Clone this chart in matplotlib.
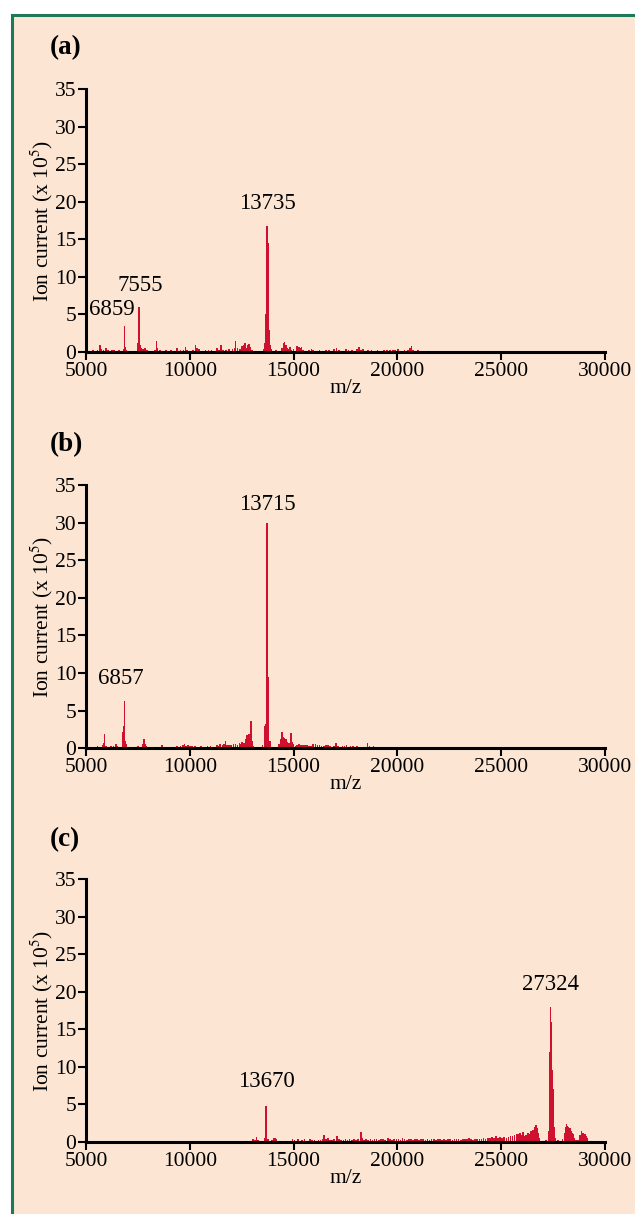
import matplotlib
matplotlib.use("Agg")
import matplotlib.pyplot as plt
from matplotlib.patches import Rectangle

plt.rcParams['font.family'] = ['Liberation Serif', 'DejaVu Serif']
plt.rcParams['mathtext.fontset'] = 'stix'

# ---- datos (m/z, intensidad x 10^5) ----
mz_a = [5200, 5350, 5480, 5560, 5674, 5750, 5850, 5950, 6050, 6150, 6250, 6350, 6480, 6600,
        6700, 6800, 6859, 6900, 6960, 7080, 7200, 7350, 7480, 7520, 7555, 7590, 7650, 7750,
        7850, 7950, 8080, 8200, 8330, 8405, 8450, 8560, 8700, 8850, 8980, 9100, 9250, 9400,
        9550, 9700, 9802, 9880, 10000, 10150, 10282, 10350, 10450, 10600, 10750, 10900, 11050,
        11180, 11296, 11400, 11518, 11600, 11750, 11900, 12050, 12150, 12210, 12300, 12420,
        12520, 12600, 12659, 12720, 12800, 12852, 12920, 13000, 13150, 13300, 13450, 13560,
        13620, 13680, 13710, 13735, 13760, 13790, 13820, 13860, 13900, 14000, 14150, 14300,
        14450, 14523, 14570, 14620, 14700, 14760, 14827, 14900, 15000, 15150, 15220, 15275,
        15330, 15385, 15460, 15600, 15750, 15870, 15950, 16100, 16250, 16400, 16560, 16700,
        16850, 16950, 17075, 17200, 17350, 17523, 17650, 17800, 17950, 18050, 18136, 18250,
        18330, 18450, 18600, 18750, 18900, 19050, 19200, 19350, 19500, 19650, 19800, 19900,
        20045, 20200, 20350, 20500, 20620, 20684, 20750, 20850, 20993]
int_a = [0.15, 0.3, 0.2, 0.25, 0.9, 0.4, 0.3, 0.5, 0.3, 0.2, 0.3, 0.25, 0.2, 0.3,
         0.2, 0.4, 3.5, 0.7, 0.3, 0.2, 0.15, 0.2, 0.5, 1.2, 6.0, 1.0, 0.5, 0.4,
         0.5, 0.3, 0.2, 0.15, 0.3, 1.5, 0.5, 0.3, 0.2, 0.25, 0.15, 0.3, 0.2, 0.6,
         0.25, 0.3, 0.7, 0.3, 0.2, 0.25, 0.9, 0.5, 0.4, 0.2, 0.3, 0.25, 0.3,
         0.2, 0.6, 0.3, 1.0, 0.3, 0.25, 0.35, 0.4, 0.6, 1.5, 0.5, 0.4,
         0.8, 0.9, 1.2, 0.6, 0.9, 1.1, 0.7, 0.3, 0.2, 0.15, 0.2, 0.4,
         1.2, 5.0, 10.0, 16.8, 14.5, 8.0, 3.0, 1.0, 0.4, 0.2, 0.3, 0.2,
         0.5, 1.2, 1.3, 0.9, 0.6, 0.4, 0.7, 0.3, 0.35, 0.8, 0.6, 0.7,
         0.5, 0.7, 0.3, 0.2, 0.3, 0.4, 0.25, 0.2, 0.3, 0.2, 0.25, 0.3,
         0.2, 0.35, 0.5, 0.25, 0.2, 0.4, 0.25, 0.3, 0.2, 0.35, 0.7, 0.3,
         0.45, 0.2, 0.25, 0.3, 0.2, 0.25, 0.2, 0.3, 0.25, 0.3, 0.25, 0.3,
         0.4, 0.2, 0.25, 0.3, 0.5, 0.8, 0.3, 0.2, 0.25]

mz_b = [5400, 5550, 5674, 5800, 5880, 5900, 5960, 6050, 6200, 6330, 6461, 6520, 6650, 6760,
        6799, 6830, 6857, 6890, 6950, 7050, 7200, 7350, 7500, 7650, 7720, 7794, 7830, 7900,
        8050, 8200, 8350, 8500, 8676, 8800, 8950, 9100, 9250, 9400, 9550, 9680, 9754, 9820,
        9900, 10000, 10100, 10250, 10400, 10550, 10700, 10850, 11000, 11150, 11300, 11400,
        11455, 11580, 11650, 11727, 11800, 11900, 12000, 12100, 12200, 12300, 12400, 12480,
        12530, 12600, 12680, 12770, 12850, 12940, 12990, 13050, 13200, 13350, 13500, 13600,
        13650, 13690, 13715, 13740, 13770, 13800, 13850, 13880, 14000, 14150, 14300, 14400,
        14457, 14510, 14560, 14620, 14700, 14780, 14875, 14920, 15000, 15100, 15180, 15260,
        15350, 15450, 15550, 15650, 15750, 15850, 15950, 16050, 16150, 16250, 16350, 16450,
        16550, 16650, 16750, 16850, 16950, 17042, 17150, 17250, 17350, 17450, 17550, 17650,
        17750, 17850, 17950, 18050, 18150, 18300, 18450, 18568, 18650, 18750, 18850, 18950]
int_b = [0.2, 0.3, 0.2, 0.4, 0.7, 1.9, 0.3, 0.2, 0.3, 0.25, 0.6, 0.3, 0.2, 0.7,
         2.1, 3.0, 6.3, 1.0, 0.5, 0.2, 0.15, 0.2, 0.3, 0.2, 0.5, 1.2, 0.6, 0.3,
         0.2, 0.15, 0.2, 0.15, 0.35, 0.15, 0.2, 0.2, 0.15, 0.25, 0.3, 0.35, 0.5, 0.3,
         0.35, 0.3, 0.25, 0.3, 0.2, 0.25, 0.2, 0.3, 0.25, 0.2, 0.4, 0.3,
         0.6, 0.35, 0.5, 0.9, 0.4, 0.45, 0.35, 0.6, 0.5, 0.4, 0.7, 0.6,
         0.8, 0.7, 1.25, 1.7, 1.9, 3.6, 1.0, 0.3, 0.15, 0.2, 0.4, 3.0,
         3.2, 20.0, 30.0, 22.0, 9.5, 3.0, 1.0, 0.5, 0.2, 0.2, 0.6, 1.2,
         2.2, 1.5, 1.3, 1.25, 0.8, 0.7, 2.0, 0.8, 0.5, 0.3, 0.4, 0.6,
         0.4, 0.45, 0.4, 0.35, 0.3, 0.25, 0.5, 0.6, 0.4, 0.35, 0.3, 0.25,
         0.4, 0.45, 0.3, 0.2, 0.25, 0.7, 0.3, 0.2, 0.25, 0.3, 0.35, 0.2,
         0.25, 0.3, 0.2, 0.25, 0.2, 0.2, 0.15, 0.7, 0.3, 0.2, 0.25, 0.15]

mz_c = [13060, 13150, 13220, 13300, 13400, 13500, 13600, 13670, 13700, 13760, 13850, 13950,
        14050, 14104, 14160, 14250, 14400, 14550, 14700, 14850, 14950, 15050, 15200, 15300,
        15400, 15520, 15650, 15800, 15900, 16000, 16100, 16200, 16300, 16400, 16465, 16550,
        16650, 16750, 16850, 16950, 17105, 17200, 17300, 17400, 17500, 17600, 17700, 17800,
        17900, 18000, 18100, 18246, 18320, 18400, 18500, 18600, 18700, 18800, 18900, 19000,
        19100, 19200, 19300, 19400, 19550, 19650, 19750, 19850, 19950, 20050, 20150, 20250,
        20350, 20450, 20550, 20650, 20750, 20850, 20950, 21050, 21150, 21250, 21350, 21450,
        21550, 21650, 21750, 21850, 21950, 22050, 22150, 22250, 22350, 22450, 22550, 22650,
        22750, 22850, 22950, 23050, 23150, 23250, 23350, 23465, 23550, 23650, 23750, 23850,
        23950, 24050, 24150, 24250, 24350, 24450, 24550, 24650, 24750, 24850, 24950, 25050,
        25150, 25250, 25350, 25450, 25550, 25650, 25750, 25850, 25906, 25980, 26050, 26120,
        26200, 26280, 26360, 26440, 26520, 26600, 26676, 26740, 26800, 26850, 26950, 27050,
        27150, 27250, 27300, 27340, 27380, 27420, 27460, 27500, 27540, 27580, 27650, 27750,
        27850, 27950, 28050, 28100, 28150, 28200, 28250, 28300, 28350, 28400, 28450, 28500,
        28600, 28700, 28800, 28874, 28930, 28990, 29050, 29110, 29165]
int_c = [0.45, 0.3, 0.7, 0.25, 0.15, 0.2, 0.5, 4.8, 1.1, 0.4, 0.2, 0.3,
         0.5, 0.6, 0.4, 0.2, 0.15, 0.15, 0.2, 0.15, 0.35, 0.25, 0.45, 0.2,
         0.25, 0.35, 0.2, 0.4, 0.25, 0.3, 0.2, 0.25, 0.3, 0.4, 0.9, 0.4,
         0.5, 0.3, 0.3, 0.4, 0.8, 0.35, 0.3, 0.25, 0.35, 0.3, 0.4, 0.3,
         0.35, 0.3, 0.4, 1.3, 0.6, 0.3, 0.35, 0.3, 0.35, 0.3, 0.35, 0.4,
         0.3, 0.35, 0.4, 0.3, 0.5, 0.35, 0.3, 0.4, 0.35, 0.4, 0.3, 0.5,
         0.35, 0.3, 0.4, 0.35, 0.3, 0.4, 0.35, 0.3, 0.45, 0.35, 0.3, 0.4,
         0.3, 0.35, 0.4, 0.3, 0.35, 0.4, 0.3, 0.35, 0.3, 0.4, 0.35, 0.3,
         0.4, 0.35, 0.4, 0.3, 0.35, 0.4, 0.35, 0.55, 0.35, 0.3, 0.4, 0.35,
         0.45, 0.4, 0.5, 0.45, 0.6, 0.5, 0.7, 0.6, 0.75, 0.5, 0.65, 0.55,
         0.7, 0.6, 0.7, 0.8, 0.75, 0.9, 1.0, 1.1, 1.2, 0.9, 1.33, 0.8,
         0.9, 1.2, 1.1, 1.4, 1.6, 2.0, 2.3, 1.8, 1.2, 0.5, 0.2, 0.15,
         0.3, 0.2, 1.5, 12.0, 18.0, 16.0, 9.6, 7.0, 2.0, 0.5, 0.2, 0.3,
         0.2, 0.4, 1.2, 2.0, 2.4, 2.1, 2.0, 1.8, 1.5, 1.2, 1.07, 0.6,
         0.3, 0.3, 0.9, 1.5, 1.2, 1.0, 1.0, 0.8, 0.5]

# etiquetas de picos: (texto, m/z, altura del texto)
picos_a = [("13735", 13735, 18.4), ("7555", 7620, 7.4), ("6859", 6230, 4.3)]
picos_b = [("13715", 13715, 31.0), ("6857", 6690, 7.8)]
picos_c = [("13670", 13670, 6.7), ("27324", 27380, 19.6)]

rojo = "#d0102f"
fondo = "#fce6d3"

fig = plt.figure(figsize=(6.35, 12.14), dpi=100)
fig.patch.set_facecolor("white")
# marco verde con fondo melocoton
fig.add_artist(Rectangle((12 / 635, -0.05), 1.2, 1 - 15 / 1214 + 0.05,
                         transform=fig.transFigure, facecolor=fondo,
                         edgecolor="#1c7a5a", linewidth=2.2, zorder=-10))

paneles = [("(a)", mz_a, int_a, picos_a, 0.7100, 48),
           ("(b)", mz_b, int_b, picos_b, 0.3838, 445),
           ("(c)", mz_c, int_c, picos_c, 0.0593, 840)]

for letra, mz, ion, picos, y0, yletra in paneles:
    ax = fig.add_axes([0.1354, y0, 0.8173, 0.2166])
    ax.patch.set_alpha(0)
    ax.bar(mz, ion, width=80, color=rojo, linewidth=0)
    ax.set_xlim(5000, 30000)
    ax.set_ylim(0, 35)
    ax.set_xticks([5000, 10000, 15000, 20000, 25000, 30000])
    ax.set_yticks([0, 5, 10, 15, 20, 25, 30, 35])
    for s in ["top", "right"]:
        ax.spines[s].set_visible(False)
    for s in ["left", "bottom"]:
        ax.spines[s].set_linewidth(2.2)
    ax.tick_params(direction="out", length=6, width=1.5, labelsize=15.5, pad=1)
    ax.set_xlabel("m/z", fontsize=15.5, labelpad=-1)
    ax.set_ylabel("Ion current (x 10$^5$)", fontsize=15.5, labelpad=0)
    for txt, x, y in picos:
        ax.text(x, y, txt, ha="center", va="bottom", fontsize=16.5)
    fig.text(50 / 635, 1 - yletra / 1214, letra, fontsize=19.5, fontweight="bold",
             ha="left", va="center")

fig.savefig("out.png", dpi=100, facecolor=fig.get_facecolor())
